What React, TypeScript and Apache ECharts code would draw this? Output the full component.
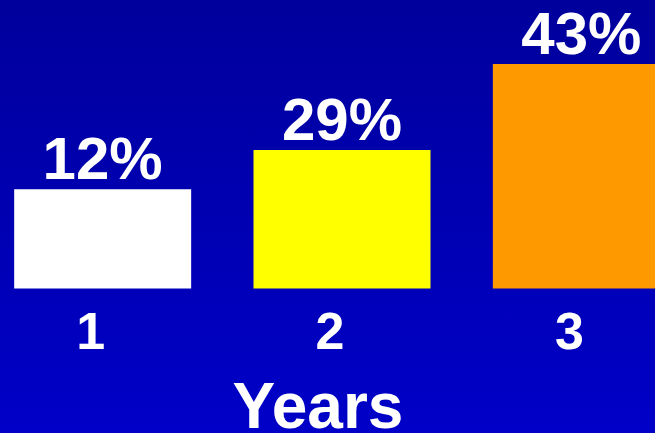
import React, { useEffect, useRef } from "react";
import * as echarts from "echarts";

// Category (x) labels
const categories = ["1", "2", "3"];
// Labels printed above the bars
const valueLabels = ["12%", "29%", "43%"];
// Bar heights as drawn in the picture (relative units on a 0–50 axis)
const barHeights = [17.2, 24.0, 38.9];
// Bar colours
const barColors = ["#FFFFFF", "#FFFF00", "#FF9900"];
const axisTitle = "Years";

export default function App() {
  const ref = useRef<HTMLDivElement>(null);
  useEffect(() => {
    document.body.style.margin = "0";
    const chart = echarts.init(ref.current!, null, { renderer: "svg" });
    chart.setOption({
      animation: false,
      backgroundColor: new echarts.graphic.LinearGradient(0, 0, 0, 1, [
        { offset: 0, color: "#00009C" },
        { offset: 1, color: "#0000C8" },
      ]),
      grid: {
        left: -17,
        right: -46,
        top: 0,
        bottom: 144.5,
        outerBoundsMode: "none",
        containLabel: false,
      },
      xAxis: {
        type: "category",
        data: categories,
        axisLine: { show: false },
        axisTick: { show: false },
        axisLabel: {
          color: "#FFFFFF",
          fontFamily: "Liberation Sans, Arial, sans-serif",
          fontWeight: "bold",
          fontSize: 52,
          lineHeight: 52,
          margin: 16,
          padding: [0, 24, 0, 0],
        },
      },
      yAxis: {
        type: "value",
        min: 0,
        max: 50,
        show: false,
        splitLine: { show: false },
      },
      graphic: [
        {
          type: "text",
          x: 318,
          y: 406,
          style: {
            text: axisTitle,
            fill: "#FFFFFF",
            fontFamily: "Liberation Sans, Arial, sans-serif",
            fontWeight: "bold",
            fontSize: 64,
            align: "center",
            verticalAlign: "middle",
          },
        },
      ],
      series: [
        {
          type: "bar",
          barWidth: 177,
          data: barHeights.map((v, i) => ({
            value: v,
            itemStyle: { color: barColors[i] },
          })),
          label: {
            show: true,
            position: "top",
            distance: 1,
            color: "#FFFFFF",
            fontFamily: "Liberation Sans, Arial, sans-serif",
            fontWeight: "bold",
            fontSize: 60,
            lineHeight: 60,
            formatter: (p: any) => valueLabels[p.dataIndex],
          },
        },
      ],
    });
    return () => chart.dispose();
  }, []);
  return <div ref={ref} style={{ width: 655, height: 433 }} />;
}
